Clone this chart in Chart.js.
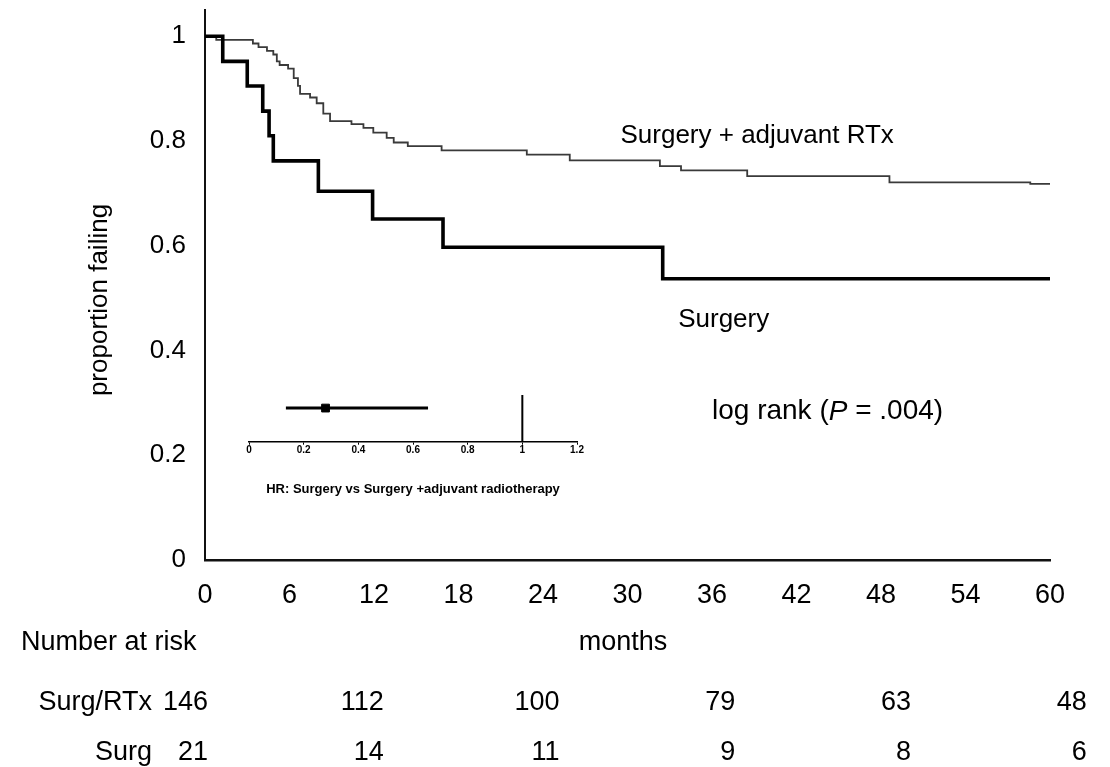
<!DOCTYPE html>
<html>
<head>
<meta charset="utf-8">
<script src="https://cdn.jsdelivr.net/npm/chart.js@4.4.0/dist/chart.umd.min.js"></script>
<style>
    body { margin: 0; background: #fff; }
    #marco { position: relative; width: 1110px; height: 767px; }
    #grafKM { position: absolute; left: 0; top: 0; }
    #grafHR { position: absolute; left: 230px; top: 380px; }
</style>
</head>
<body>
<div id="marco">
    <canvas id="grafKM" width="1110" height="767"></canvas>
    <canvas id="grafHR" width="380" height="125"></canvas>
</div>
<script>
// curva Surgery: mes del escalon y proporcion despues del escalon
const mesesCir = [0, 1.26, 3.0, 4.1, 4.55, 4.85, 8.05, 11.9, 16.9, 32.5, 60];
const propCir = [1, 0.952, 0.905, 0.857, 0.81, 0.762, 0.704, 0.651, 0.597, 0.537, 0.537];

// curva Surgery + adjuvant RTx
const mesesRTx = [0, 0.8, 3.4, 3.8, 4.4, 4.85, 5.1, 5.3, 5.9, 6.3, 6.6, 6.75, 7.46, 7.93, 8.4, 8.88,
    10.4, 11.25, 11.95, 12.9, 13.4, 14.4, 16.8, 22.85, 25.9, 32.3, 33.8, 38.5, 48.6, 58.6, 60];
const propRTx = [1, 0.993, 0.986, 0.979, 0.972, 0.965, 0.952, 0.945, 0.938, 0.92, 0.905, 0.89, 0.883, 0.872, 0.852, 0.838,
    0.832, 0.825, 0.816, 0.806, 0.797, 0.79, 0.782, 0.774, 0.763, 0.752, 0.744, 0.733, 0.721, 0.718, 0.718];

const ticksMeses = [0, 6, 12, 18, 24, 30, 36, 42, 48, 54, 60];
const ticksProp = [0, 0.2, 0.4, 0.6, 0.8, 1];

// numero en riesgo
const mesesRiesgo = [0, 12, 24, 36, 48, 60];
const riesgoRTx = [146, 112, 100, 79, 63, 48];
const riesgoCir = [21, 14, 11, 9, 8, 6];

// hazard ratio del recuadro
const hrValor = [0.28];
const hrIntervalo = [0.135, 0.655];
const hrReferencia = [1];
const ticksHR = [0, 0.2, 0.4, 0.6, 0.8, 1, 1.2];

const fuente = "'Liberation Sans', Arial, sans-serif";

function puntos(meses, valores) {
    return meses.map((m, i) => ({ x: m, y: valores[i] }));
}

function sinRelleno(s) {
    s.paddingTop = 0;
    s.paddingBottom = 0;
    s.paddingLeft = 0;
    s.paddingRight = 0;
}

const textosKM = {
    id: 'textosKM',
    afterDraw(chart) {
        const ctx = chart.ctx;
        const ex = chart.scales.x;
        const ey = chart.scales.y;
        ctx.save();
        ctx.fillStyle = '#000';
        ctx.textBaseline = 'middle';

        // titulo del eje y
        ctx.font = `26px ${fuente}`;
        ctx.save();
        ctx.translate(100, 300);
        ctx.rotate(-Math.PI / 2);
        ctx.textAlign = 'center';
        ctx.fillText('proportion failing', 0, 0);
        ctx.restore();

        // etiquetas de las curvas
        ctx.textAlign = 'left';
        ctx.fillText('Surgery + adjuvant RTx', ex.getPixelForValue(29.5), ey.getPixelForValue(0.81));
        ctx.fillText('Surgery', ex.getPixelForValue(33.6), ey.getPixelForValue(0.458));

        // log rank con la P en cursiva
        let px = ex.getPixelForValue(36.0);
        const py = ey.getPixelForValue(0.283);
        const partes = [['log rank (', ''], ['P', 'italic '], [' = .004)', '']];
        partes.forEach(([txt, estilo]) => {
            ctx.font = `${estilo}28px ${fuente}`;
            ctx.fillText(txt, px, py);
            px += ctx.measureText(txt).width;
        });

        // titulo del eje x y tabla de riesgo
        ctx.font = `27px ${fuente}`;
        ctx.textAlign = 'center';
        ctx.fillText('months', 623, 643);
        ctx.textAlign = 'left';
        ctx.fillText('Number at risk', 21, 643);
        ctx.textAlign = 'right';
        ctx.fillText('Surg/RTx', 152, 703);
        ctx.fillText('Surg', 152, 753);
        mesesRiesgo.forEach((m, i) => {
            const xc = ex.getPixelForValue(m * 1.04) + 3;
            ctx.fillText(String(riesgoRTx[i]), xc, 703);
            ctx.fillText(String(riesgoCir[i]), xc, 753);
        });
        ctx.restore();
    }
};

new Chart(document.getElementById('grafKM').getContext('2d'), {
    type: 'line',
    data: {
        datasets: [{
            label: 'Surgery',
            data: puntos(mesesCir, propCir),
            borderColor: '#000',
            borderWidth: 3.6,
            stepped: 'before',
            fill: false,
            pointRadius: 0
        }, {
            label: 'Surgery + adjuvant RTx',
            data: puntos(mesesRTx, propRTx),
            borderColor: '#3a3a3a',
            borderWidth: 1.8,
            stepped: 'before',
            fill: false,
            pointRadius: 0
        }]
    },
    options: {
        responsive: false,
        animation: false,
        layout: { padding: { top: 10, right: 60, left: 0, bottom: 0 } },
        plugins: { legend: { display: false }, tooltip: { enabled: false } },
        scales: {
            x: {
                type: 'linear',
                min: 0,
                max: 60,
                afterBuildTicks: s => { s.ticks = ticksMeses.map(v => ({ value: v })); },
                afterFit: s => { s.height = 207; sinRelleno(s); },
                grid: { display: false, drawTicks: false },
                border: { display: true, color: '#111', width: 2.5 },
                ticks: { padding: 19, color: '#000', maxRotation: 0, autoSkip: false, font: { size: 27, family: fuente } }
            },
            y: {
                min: 0,
                max: 1.05,
                afterBuildTicks: s => { s.ticks = ticksProp.map(v => ({ value: v })); },
                afterFit: s => { s.width = 205; sinRelleno(s); },
                grid: { display: false, drawTicks: false },
                border: { display: true, color: '#111', width: 2 },
                ticks: { padding: 19, color: '#000', autoSkip: false, font: { size: 26, family: fuente }, callback: v => String(v) }
            }
        }
    },
    plugins: [textosKM]
});

const filaHR = 0.72;
new Chart(document.getElementById('grafHR').getContext('2d'), {
    type: 'line',
    data: {
        datasets: [{
            data: [{ x: hrValor[0], y: filaHR }],
            showLine: false,
            pointStyle: 'rect',
            pointRadius: 5.5,
            backgroundColor: '#000',
            borderColor: '#000'
        }, {
            data: hrIntervalo.map(v => ({ x: v, y: filaHR })),
            borderColor: '#000',
            borderWidth: 3,
            pointRadius: 0
        }, {
            data: [{ x: hrReferencia[0], y: 0 }, { x: hrReferencia[0], y: 1 }],
            borderColor: '#000',
            borderWidth: 2,
            pointRadius: 0
        }]
    },
    options: {
        responsive: false,
        animation: false,
        layout: { padding: { top: 15, right: 33, left: 19, bottom: 0 } },
        plugins: { legend: { display: false }, tooltip: { enabled: false } },
        scales: {
            x: {
                type: 'linear',
                min: 0,
                max: 1.2,
                afterBuildTicks: s => { s.ticks = ticksHR.map(v => ({ value: v })); },
                afterFit: s => { s.height = 63.3; sinRelleno(s); },
                grid: { display: true, drawOnChartArea: false, drawTicks: true, tickLength: 3, color: '#000' },
                border: { display: true, color: '#000', width: 1.5 },
                ticks: { padding: 0, color: '#000', maxRotation: 0, autoSkip: false, font: { size: 10, weight: 'bold', family: fuente }, callback: v => String(v) },
                title: {
                    display: true,
                    text: 'HR: Surgery vs Surgery +adjuvant radiotherapy',
                    color: '#000',
                    font: { size: 13, weight: 'bold', family: fuente },
                    padding: { top: 0, bottom: 8 }
                }
            },
            y: { display: false, min: 0, max: 1 }
        }
    }
});
</script>
</body>
</html>
